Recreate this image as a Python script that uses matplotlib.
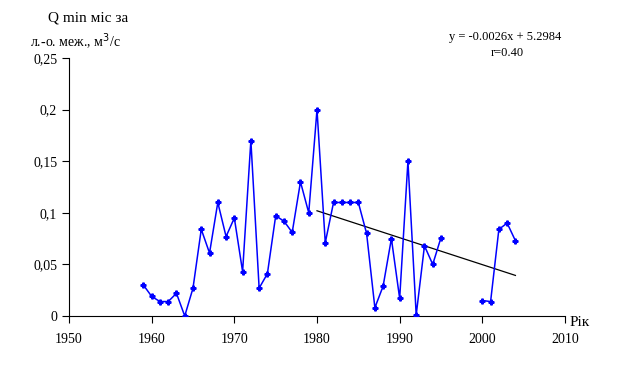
import numpy as np
import matplotlib
matplotlib.use("Agg")
import matplotlib.pyplot as plt
from matplotlib.ticker import FuncFormatter

plt.rcParams['font.family'] = ['Liberation Serif', 'DejaVu Serif']

years = list(range(1959, 2005))
q_min = [0.030, 0.019, 0.014, 0.014, 0.022, 0.000, 0.027, 0.084, 0.061, 0.110,
         0.077, 0.095, 0.043, 0.170, 0.027, 0.041, 0.097, 0.092, 0.081, 0.130,
         0.100, 0.200, 0.071, 0.110, 0.110, 0.110, 0.110, 0.080, 0.008, 0.029,
         0.075, 0.017, 0.150, 0.001, 0.068, 0.050, 0.076, np.nan, np.nan, np.nan,
         np.nan, 0.015, 0.014, 0.084, 0.090, 0.073]
trend_start = 1980
eq_text = "y = -0.0026x + 5.2984"
r_text = "r=0.40"

years = np.array(years)
q_min = np.array(q_min)

fig = plt.figure(figsize=(6.21, 3.84), dpi=100)
ax = fig.add_axes([69/621, 1 - 316/384, (565 - 69)/621, (316 - 58)/384])

ax.plot(years, q_min, color="#0000ff", lw=1.1, marker="P", ms=3.5,
        mec="#0000ff", mfc="#0000ff", zorder=3)

# trend for 1980 onwards
mask = (years >= trend_start) & ~np.isnan(q_min)
k, b = np.polyfit(years[mask], q_min[mask], 1)
tx = np.array([trend_start, years[mask][-1]])
ax.plot(tx, k * tx + b, color="black", lw=0.9, zorder=2)

ax.set_xlim(1950, 2010)
ax.set_ylim(0, 0.25)
ax.set_xticks(range(1950, 2011, 10))
ax.set_yticks(np.arange(0, 0.251, 0.05))
ax.yaxis.set_major_formatter(FuncFormatter(
    lambda v, p: "0" if abs(v) < 1e-9 else f"{v:.2f}".rstrip("0").replace(".", ",")))
ax.tick_params(direction="out", length=5, width=0.8, labelsize=10, colors="black")
ax.tick_params(axis="x", pad=7)
for s in ["top", "right"]:
    ax.spines[s].set_visible(False)
for s in ["left", "bottom"]:
    ax.spines[s].set_linewidth(0.8)

fig.text(88/621, 1 - 18/384, "Q min міс за", ha="center", va="center", fontsize=11)
fig.text(75/621, 1 - 42/384, "л.-о. меж., м$^3$/с", ha="center", va="center", fontsize=10)
fig.text(580/621, 1 - 322/384, "Рік", ha="center", va="center", fontsize=11)
fig.text(505/621, 1 - 37/384, eq_text, ha="center", va="center", fontsize=9)
fig.text(507/621, 1 - 53/384, r_text, ha="center", va="center", fontsize=9)

fig.savefig("out.png", dpi=100)
